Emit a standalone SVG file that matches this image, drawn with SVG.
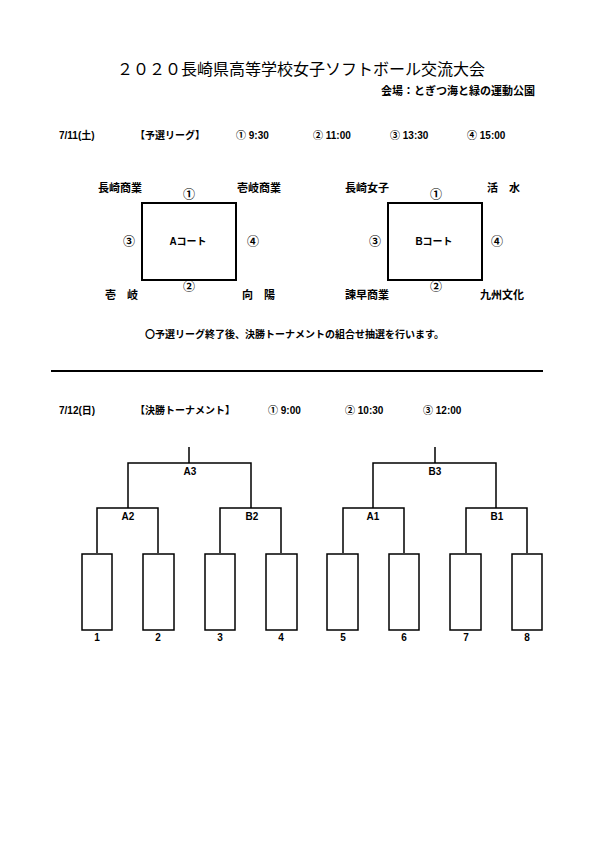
<svg xmlns="http://www.w3.org/2000/svg" width="595" height="842" viewBox="0 0 595 842">
<style>
text{font-family:"Liberation Sans","Noto Sans CJK JP",sans-serif;fill:#000}
.t{font-size:16px}
.b{font-size:10px;font-weight:bold}
.s{font-size:11px;font-weight:bold}
.c{font-size:10px;font-weight:bold;text-anchor:middle}
.n{font-size:12px;font-weight:bold;text-anchor:middle}
.court{fill:none;stroke:#000;stroke-width:2}
.ln{fill:none;stroke:#000;stroke-width:1.5}
.box{fill:#fff;stroke:#000;stroke-width:1.5}
</style>
<rect width="595" height="842" fill="#fff"/>
<g id="header">
<text class="t" x="117" y="75">２０２０長崎県高等学校女子ソフトボール交流大会</text>
<text class="s" x="381" y="95">会場：とぎつ海と緑の運動公園</text>
</g>
<g id="day1">
<text class="b" x="59" y="139">7/11(土)</text>
<text class="b" x="135" y="139">【予選リーグ】</text>
<text class="b" x="236" y="139">① 9:30</text>
<text class="b" x="313" y="139">② 11:00</text>
<text class="b" x="390" y="139">③ 13:30</text>
<text class="b" x="467" y="139">④ 15:00</text>
</g>
<g id="courtA">
<rect class="court" x="142" y="203" width="94" height="77"/>
<text class="c" x="188" y="245">Aコート</text>
<text class="s" x="98" y="192">長崎商業</text>
<text class="s" x="237" y="192">壱岐商業</text>
<text class="s" x="105" y="299">壱　岐</text>
<text class="s" x="242" y="299">向　陽</text>
<text class="n" x="189" y="199">①</text>
<text class="n" x="189" y="291">②</text>
<text class="n" x="129" y="246">③</text>
<text class="n" x="253" y="246">④</text>
</g>
<g id="courtB">
<rect class="court" x="388" y="203" width="94" height="77"/>
<text class="c" x="434" y="245">Bコート</text>
<text class="s" x="345" y="192">長崎女子</text>
<text class="s" x="487" y="192">活　水</text>
<text class="s" x="345" y="299">諫早商業</text>
<text class="s" x="480" y="299">九州文化</text>
<text class="n" x="436" y="199">①</text>
<text class="n" x="436" y="291">②</text>
<text class="n" x="375" y="246">③</text>
<text class="n" x="497" y="246">④</text>
</g>
<g id="note">
<text class="b" x="145" y="338">〇予選リーグ終了後、決勝トーナメントの組合せ抽選を行います。</text>
</g>
<line x1="51" y1="371" x2="543" y2="371" stroke="#000" stroke-width="2"/>
<g id="day2">
<text class="b" x="59" y="414">7/12(日)</text>
<text class="b" x="135" y="414">【決勝トーナメント】</text>
<text class="b" x="268" y="414">① 9:00</text>
<text class="b" x="345" y="414">② 10:30</text>
<text class="b" x="423" y="414">③ 12:00</text>
</g>
<g id="connectors">
<path class="ln" d="M189 447V463M128 508V463H251V508M97 553V508H158V553M220 553V508H281V553"/>
<path class="ln" d="M435 447V463M373 508V463H496V508M343 553V508H404V553M466 553V508H527V553"/>
</g>
<g id="labels">
<text class="c" x="190" y="475">A3</text>
<text class="c" x="128" y="520">A2</text>
<text class="c" x="252" y="520">B2</text>
<text class="c" x="435" y="475">B3</text>
<text class="c" x="373" y="520">A1</text>
<text class="c" x="497" y="520">B1</text>
</g>
<g id="boxes">
<rect class="box" x="82" y="554" width="30" height="76"/>
<rect class="box" x="143" y="554" width="31" height="76"/>
<rect class="box" x="205" y="554" width="30" height="76"/>
<rect class="box" x="266" y="554" width="31" height="76"/>
<rect class="box" x="327" y="554" width="31" height="76"/>
<rect class="box" x="389" y="554" width="30" height="76"/>
<rect class="box" x="450" y="554" width="31" height="76"/>
<rect class="box" x="512" y="554" width="30" height="76"/>
<text class="c" x="97" y="641">1</text>
<text class="c" x="158" y="641">2</text>
<text class="c" x="220" y="641">3</text>
<text class="c" x="281" y="641">4</text>
<text class="c" x="343" y="641">5</text>
<text class="c" x="404" y="641">6</text>
<text class="c" x="466" y="641">7</text>
<text class="c" x="527" y="641">8</text>
</g>
</svg>
